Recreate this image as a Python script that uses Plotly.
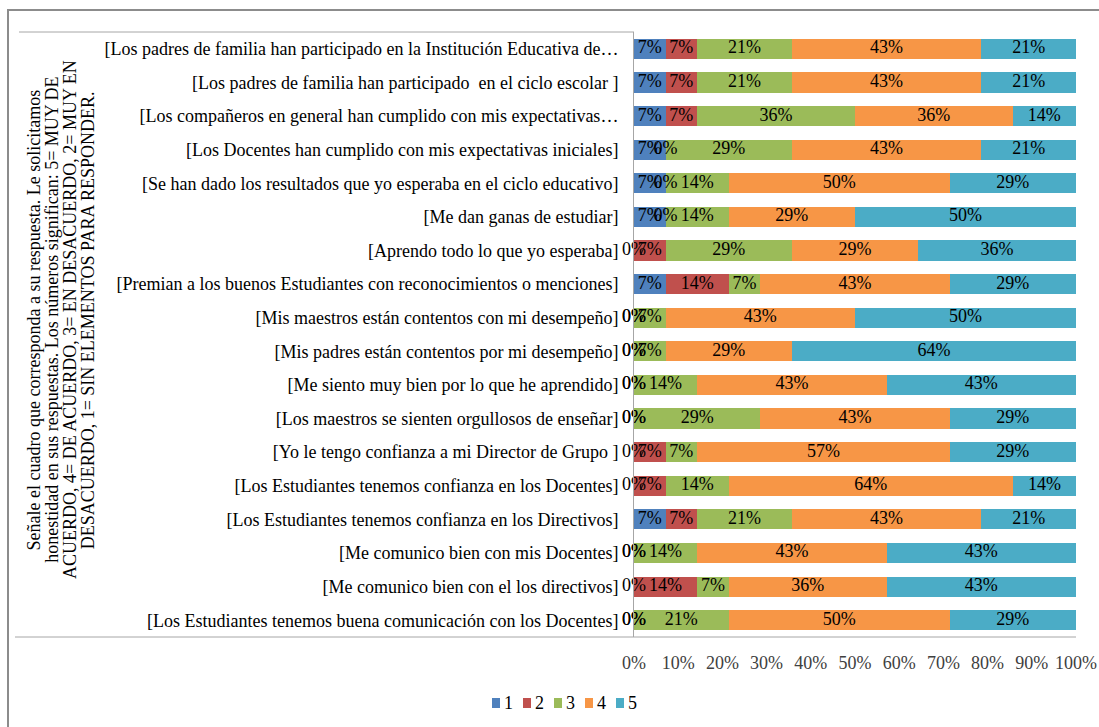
import numpy as np
import plotly.graph_objects as go

# Survey statements (top to bottom)
statements = [
    "[Los padres de familia han participado en la Institución Educativa de…",
    "[Los padres de familia han participado  en el ciclo escolar ]",
    "[Los compañeros en general han cumplido con mis expectativas…",
    "[Los Docentes han cumplido con mis expectativas iniciales]",
    "[Se han dado los resultados que yo esperaba en el ciclo educativo]",
    "[Me dan ganas de estudiar]",
    "[Aprendo todo lo que yo esperaba]",
    "[Premian a los buenos Estudiantes con reconocimientos o menciones]",
    "[Mis maestros están contentos con mi desempeño]",
    "[Mis padres están contentos por mi desempeño]",
    "[Me siento muy bien por lo que he aprendido]",
    "[Los maestros se sienten orgullosos de enseñar]",
    "[Yo le tengo confianza a mi Director de Grupo ]",
    "[Los Estudiantes tenemos confianza en los Docentes]",
    "[Los Estudiantes tenemos confianza en los Directivos]",
    "[Me comunico bien con mis Docentes]",
    "[Me comunico bien con el los directivos]",
    "[Los Estudiantes tenemos buena comunicación con los Docentes]",
]

# Share of answers (%) per response level
resp_1 = [7.14, 7.14, 7.14, 7.14, 7.14, 7.14, 0.00, 7.14, 0.00, 0.00, 0.00, 0.00, 0.00, 0.00, 7.14, 0.00, 0.00, 0.00]
resp_2 = [7.14, 7.14, 7.14, 0.00, 0.00, 0.00, 7.14, 14.29, 0.00, 0.00, 0.00, 0.00, 7.14, 7.14, 7.14, 0.00, 14.29, 0.00]
resp_3 = [21.43, 21.43, 35.71, 28.57, 14.29, 14.29, 28.57, 7.14, 7.14, 7.14, 14.29, 28.57, 7.14, 14.29, 21.43, 14.29, 7.14, 21.43]
resp_4 = [42.86, 42.86, 35.71, 42.86, 50.00, 28.57, 28.57, 42.86, 42.86, 28.57, 42.86, 42.86, 57.14, 64.29, 42.86, 42.86, 35.71, 50.00]
resp_5 = [21.43, 21.43, 14.29, 21.43, 28.57, 50.00, 35.71, 28.57, 50.00, 64.29, 42.86, 28.57, 28.57, 14.29, 21.43, 42.86, 42.86, 28.57]

level_names = ["1", "2", "3", "4", "5"]
series = [resp_1, resp_2, resp_3, resp_4, resp_5]
colors = ["#4F81BD", "#C0504D", "#9BBB59", "#F79646", "#4BACC6"]

x_ticks = list(range(0, 101, 10))
x_tick_text = [f"{t}%" for t in x_ticks]

axis_title_lines = [
    "Señale el cuadro que corresponda a su respuesta. Le solicitamos",
    "honestidad en sus respuestas. Los números significan: 5= MUY DE",
    "ACUERDO, 4= DE ACUERDO, 3= EN DESACUERDO, 2= MUY EN",
    "DESACUERDO, 1= SIN ELEMENTOS PARA RESPONDER.",
]

FONT = "Liberation Serif, Times New Roman, serif"

# Canvas geometry (pixels)
W, H = 1099, 727
PL, PR, PT, PB = 634, 1076, 32, 637


def px_x(px):
    return (px - PL) / (PR - PL)


def px_y(py):
    return (PB - py) / (PB - PT)


fig = go.Figure()

left = np.zeros(len(statements))
for name, vals, col in zip(level_names, series, colors):
    v = np.array(vals, dtype=float)
    fig.add_trace(go.Bar(
        y=statements, x=v, orientation="h", name=name,
        marker=dict(color=col, line=dict(width=0)),
        showlegend=False, hoverinfo="x+y",
    ))
    # value labels centred on each segment
    mid = left + v / 2
    fig.add_trace(go.Scatter(
        y=statements, x=mid, mode="text",
        text=[f"{val:.0f}%" for val in v],
        textposition="middle center",
        textfont=dict(family=FONT, size=18, color="#000000"),
        cliponaxis=False, showlegend=False, hoverinfo="skip",
    ))
    left = left + v

shapes = [
    # outer chart frame
    dict(type="rect", xref="paper", yref="paper",
         x0=px_x(8), x1=px_x(1110), y0=px_y(740), y1=px_y(10),
         line=dict(color="#8C8C8C", width=2), fillcolor="rgba(0,0,0,0)", layer="below"),
    # category band top line
    dict(type="line", xref="paper", yref="paper",
         x0=px_x(19), x1=0, y0=1, y1=1,
         line=dict(color="#A6A6A6", width=1)),
    # category band bottom line (extends the value axis)
    dict(type="line", xref="paper", yref="paper",
         x0=px_x(15), x1=1, y0=0, y1=0,
         line=dict(color="#A6A6A6", width=1)),
]

# rotated category-group title, one annotation per line
title_x = [33.5, 51.8, 70, 88.3]
annotations = [
    dict(text=line, xref="paper", yref="paper",
         x=px_x(xp), y=px_y(320), xanchor="center", yanchor="middle",
         textangle=-90, showarrow=False,
         font=dict(family=FONT, size=18, color="#000000"))
    for line, xp in zip(axis_title_lines, title_x)
]

# compact legend row: colour key + level number
LEG_X0, LEG_STEP, LEG_Y = 492, 31, 703
for i, (name, col) in enumerate(zip(level_names, colors)):
    x0 = LEG_X0 + i * LEG_STEP
    shapes.append(dict(type="rect", xref="paper", yref="paper",
                       x0=px_x(x0), x1=px_x(x0 + 8),
                       y0=px_y(LEG_Y + 5), y1=px_y(LEG_Y - 5),
                       line=dict(width=0), fillcolor=col))
    annotations.append(dict(text=name, xref="paper", yref="paper",
                            x=px_x(x0 + 10), y=px_y(LEG_Y),
                            xanchor="left", yanchor="middle", showarrow=False,
                            font=dict(family=FONT, size=18, color="#000000")))

n_cat = len(statements)
fig.update_layout(
    width=W, height=H,
    barmode="stack", bargap=0.4,
    showlegend=False,
    margin=dict(l=PL, r=W - PR, t=PT, b=H - PB, autoexpand=False),
    paper_bgcolor="white", plot_bgcolor="white",
    font=dict(family=FONT, size=18, color="#000000"),
    xaxis=dict(
        range=[0, 100], tickvals=x_ticks, ticktext=x_tick_text,
        showgrid=False, zeroline=False, showline=False,
        ticks="", ticklabelstandoff=13, automargin=False,
        tickfont=dict(family=FONT, size=18, color="#404040"),
        fixedrange=True,
    ),
    yaxis=dict(
        type="category", range=[n_cat - 0.5, -0.5],
        showgrid=False, zeroline=False,
        showline=True, linecolor="#A6A6A6", linewidth=1,
        ticks="", ticklabelstandoff=11, automargin=False,
        tickfont=dict(family=FONT, size=18, color="#000000"),
        fixedrange=True,
    ),
    shapes=shapes,
    annotations=annotations,
)

fig.write_html("out.html")
